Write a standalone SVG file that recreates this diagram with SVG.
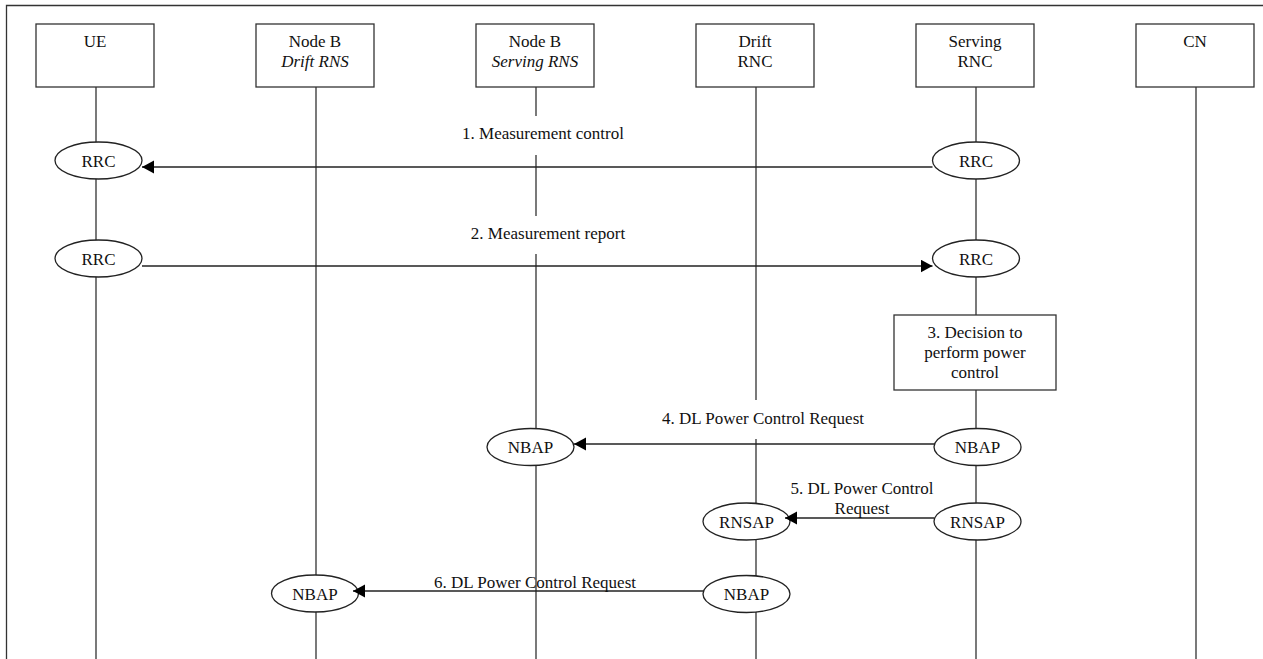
<svg xmlns="http://www.w3.org/2000/svg" width="1263" height="659" viewBox="0 0 1263 659">
<defs>
<style>
.ln{stroke:#333;stroke-width:1.3;fill:none}
.box{fill:#fff;stroke:#333;stroke-width:1.3}
.ell{fill:#fff;stroke:#222;stroke-width:1.3}
text{font-family:"Liberation Serif","Times New Roman",serif;font-size:17px;fill:#111;text-anchor:middle}
.it{font-style:italic}
.msg{stroke:#222;stroke-width:1.3;fill:none;marker-end:url(#ah)}
.bg{fill:#fff}
</style>
<marker id="ah" markerUnits="userSpaceOnUse" markerWidth="13" markerHeight="14" refX="12" refY="6.5" orient="auto"><path d="M0,0 L12,6.5 L0,13 z" fill="#000"/></marker>
</defs>
<rect width="1263" height="659" fill="#fff"/>
<path class="ln" d="M6.5,659 V5.5 H1263"/>

<g id="lifelines">
<path class="ln" d="M96,87 V659 M316,87 V659 M536,87 V659 M756,87 V659 M976,87 V659 M1196,87 V659"/>
</g>

<g id="node-ue"><rect class="box" x="36" y="24" width="118" height="63"/><text x="95" y="47">UE</text></g>
<g id="node-nodeb-drift"><rect class="box" x="256" y="24" width="118" height="63"/><text x="315" y="47">Node B</text><text class="it" x="315" y="67">Drift RNS</text></g>
<g id="node-nodeb-serving"><rect class="box" x="476" y="24" width="118" height="63"/><text x="535" y="47">Node B</text><text class="it" x="535" y="67">Serving RNS</text></g>
<g id="node-drift-rnc"><rect class="box" x="696" y="24" width="118" height="63"/><text x="755" y="47">Drift</text><text x="755" y="67">RNC</text></g>
<g id="node-serving-rnc"><rect class="box" x="916" y="24" width="118" height="63"/><text x="975" y="47">Serving</text><text x="975" y="67">RNC</text></g>
<g id="node-cn"><rect class="box" x="1136" y="24" width="118" height="63"/><text x="1195" y="47">CN</text></g>

<g id="label-backgrounds">
<rect class="bg" x="458" y="116" width="170" height="39"/>
<rect class="bg" x="470" y="216" width="160" height="38"/>
<rect class="bg" x="656" y="400" width="214" height="39"/>
</g>

<g id="ue-rrc-1"><ellipse class="ell" cx="98.5" cy="160.5" rx="43.5" ry="18.5"/><text x="98.5" y="166.5">RRC</text></g>
<g id="ue-rrc-2"><ellipse class="ell" cx="98.5" cy="258.5" rx="43.5" ry="18.5"/><text x="98.5" y="264.5">RRC</text></g>
<g id="srnc-rrc-1"><ellipse class="ell" cx="976" cy="160.5" rx="43.5" ry="18.5"/><text x="976" y="166.5">RRC</text></g>
<g id="srnc-rrc-2"><ellipse class="ell" cx="976" cy="258.5" rx="43.5" ry="18.5"/><text x="976" y="264.5">RRC</text></g>
<g id="decision"><rect class="box" x="894" y="315" width="162" height="75"/><text x="975" y="338">3. Decision to</text><text x="975" y="358">perform power</text><text x="975" y="378">control</text></g>
<g id="snb-nbap"><ellipse class="ell" cx="530.5" cy="447" rx="43.5" ry="18.5"/><text x="530.5" y="453">NBAP</text></g>
<g id="srnc-nbap"><ellipse class="ell" cx="977.5" cy="447" rx="43.5" ry="18.5"/><text x="977.5" y="453">NBAP</text></g>
<g id="drnc-rnsap"><ellipse class="ell" cx="746.5" cy="521.5" rx="43.5" ry="18.5"/><text x="746.5" y="527.5">RNSAP</text></g>
<g id="srnc-rnsap"><ellipse class="ell" cx="977.5" cy="521.5" rx="43.5" ry="18.5"/><text x="977.5" y="527.5">RNSAP</text></g>
<g id="drnc-nbap"><ellipse class="ell" cx="746.5" cy="594" rx="43.5" ry="18.5"/><text x="746.5" y="600">NBAP</text></g>
<g id="dnb-nbap"><ellipse class="ell" cx="315" cy="593.5" rx="43.5" ry="18.5"/><text x="315" y="599.5">NBAP</text></g>

<g id="connectors">
<path class="msg" d="M932.5,167 H142"/>
<path class="msg" d="M142,266 H932.5"/>
<path class="msg" d="M934,444 H574"/>
<path class="msg" d="M934,518 H785"/>
<path class="msg" d="M703,591 H353"/>
<text x="543" y="139">1. Measurement control</text>
<text x="548" y="239">2. Measurement report</text>
<text x="763" y="424">4. DL Power Control Request</text>
<text x="862" y="494">5. DL Power Control</text>
<text x="862" y="514">Request</text>
<text x="535" y="588">6. DL Power Control Request</text>
</g>
</svg>
